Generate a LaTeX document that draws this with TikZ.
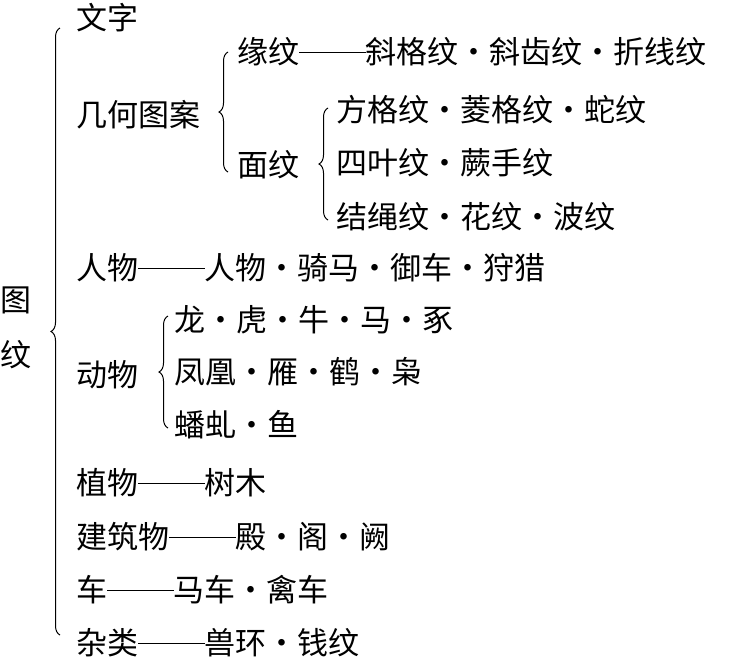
\documentclass[tikz,border=0pt]{standalone}
\usepackage{fontspec}
\setmainfont{Noto Sans CJK SC}
\usetikzlibrary{decorations.pathreplacing}
\newcommand{\dd}{\rule[0.36em]{2.15em}{0.7pt}}
\begin{document}
\begin{tikzpicture}[x=1pt,y=-1pt,
  t/.style={anchor=west,inner sep=0pt,font=\fontsize{31}{31}\selectfont},
  br/.style={draw,line width=1pt,decorate,decoration={brace,amplitude=9pt}}]
\useasboundingbox (0,0) rectangle (736,659);
\node[t] (wz) at (76,18) {文字};
\node[t] (yw) at (237,52) {缘纹\dd 斜格纹・斜齿纹・折线纹};
\node[t] (jh) at (76,115) {几何图案};
\node[t] (fg) at (336,110) {方格纹・菱格纹・蛇纹};
\node[t] (mw) at (237,165) {面纹};
\node[t] (sy) at (336,163) {四叶纹・蕨手纹};
\node[t] (js) at (336,217) {结绳纹・花纹・波纹};
\node[t] (rw) at (76,268) {人物\dd 人物・骑马・御车・狩猎};
\node[t] (lo) at (174,320) {龙・虎・牛・马・豖};
\node[t] (dw) at (76,375) {动物};
\node[t] (fh) at (174,372) {凤凰・雁・鹤・枭};
\node[t] (pq) at (174,425) {蟠虬・鱼};
\node[t] (zw) at (76,483) {植物\dd 树木};
\node[t] (jz) at (76,537) {建筑物\dd 殿・阁・阙};
\node[t] (ch) at (76,590) {车\dd 马车・禽车};
\node[t] (zl) at (76,643) {杂类\dd 兽环・钱纹};
\node[t] (tu) at (0,300) {图};
\node[t] (wen) at (0,355) {纹};
\draw[br] (60,635) -- (60,28);
\draw[br] (228,172) -- (228,52);
\draw[br] (328,220) -- (328,108);
\draw[br] (168,428) -- (168,316);
\end{tikzpicture}
\end{document}
